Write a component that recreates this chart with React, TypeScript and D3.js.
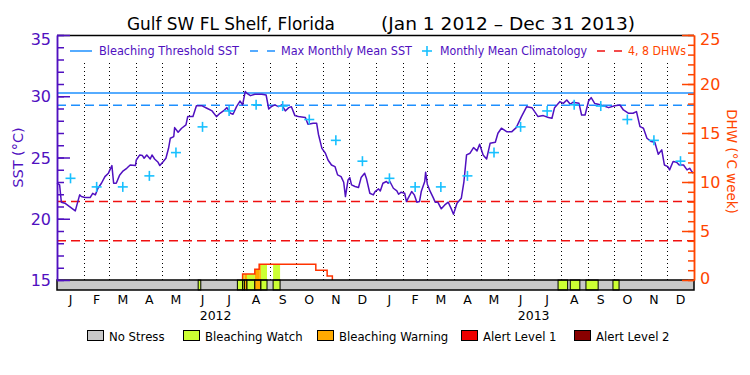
import React, { useEffect, useRef } from 'react';
import * as d3 from 'd3';

const monthLetters = ['J', 'F', 'M', 'A', 'M', 'J', 'J', 'A', 'S', 'O', 'N', 'D'];
const yearLabels = ['2012', '2013'];
const sstTickValues = [15, 20, 25, 30, 35];
const dhwTickValues = [0, 5, 10, 15, 20, 25];

// monthly mean climatology, Jan..Dec (°C)
const climatology = [23.3, 22.6, 22.6, 23.5, 25.4, 27.5, 28.8, 29.3, 29.2, 28.1, 26.4, 24.7];
const maxMonthlyMean = 29.26;
const bleachingThreshold = 30.26;
const dhwRefLines = [4, 8];

// SST readings: day index since Jan 1 2012, value in °C
const sstDay = [
  0, 3, 5, 9, 21, 26, 28, 32, 38, 41, 44, 47, 51, 55, 59, 63, 65, 68, 72, 76, 80, 84, 90, 91, 95,
  98, 100, 103, 107, 109, 112, 116, 118, 122, 125, 128, 130, 134, 135, 139, 143, 148, 150, 156, 160,
  166, 172, 178, 183, 187, 191, 195, 199, 202, 206, 210, 213, 216, 218, 222, 227, 235, 240, 243, 246,
  250, 254, 258, 262, 266, 269, 273, 277, 285, 288, 294, 298, 300, 304, 308, 311, 315, 319, 322, 326,
  329, 331, 334, 336, 338, 342, 346, 349, 353, 355, 359, 363,
  365, 369, 371, 374, 378, 380, 382, 386, 390, 392, 395, 399, 401, 403, 407, 410, 413, 416, 418, 422,
  423, 425, 428, 432, 434, 437, 441, 445, 449, 453, 455, 459, 464, 467, 470, 474, 478, 482, 485, 489,
  493, 497, 503, 506, 510, 516, 522, 527, 533, 539, 545, 552, 558, 564, 568, 571, 577, 581, 585, 589,
  592, 599, 602, 606, 610, 613, 617, 621, 627, 633, 640, 646, 650, 656, 661, 665, 669, 673, 677, 682,
  686, 690, 694, 697, 701, 703, 707, 711, 714, 719, 723, 726, 728, 730,
];
const sstValue = [
  22.9, 22.76, 21.35, 21.27, 20.64, 21.95, 21.81, 21.73, 21.73, 22.08, 21.95, 22.49, 22.9, 23.44, 23.72,
  24.34, 22.9, 22.9, 23.58, 23.91, 24.12, 24.39, 24.34, 24.8, 25.21,
  25.16, 24.94, 25.21, 24.88, 25.21, 24.88, 24.61, 24.34, 24.67, 24.94, 25.75, 26.57, 26.71, 27.44,
  27.06, 27.39, 27.66, 28.34, 28.34, 29.23,
  29.23, 29.02, 28.8, 28.34, 28.61, 28.8, 29.07, 28.61, 28.53, 29.15, 29.61, 29.29, 30.38, 30.24, 30.05,
  30.16, 30.16, 30.1, 28.96, 29.15,
  29.29, 29.15, 29.29, 28.8, 29.07, 29.15, 28.42, 28.34, 28.26, 27.71, 27.79, 27.79, 26.9, 25.75, 25.35,
  24.8, 24.39, 24.26, 23.58, 23.44,
  22.98, 21.81, 23.17, 23.36, 22.76, 22.63, 22.55, 23.36, 23.72, 23.31, 22.08, 21.95,
  22.22, 22.44, 22.27, 22.9, 23.04, 22.9, 23.04, 22.49, 22.27, 22.0, 22.17, 22.08, 21.4, 21.68, 22.22,
  21.95, 21.35, 21.4, 22.22, 23.04,
  23.8, 22.82, 22.27, 21.68, 21.35, 21.35, 20.81, 21.13, 21.35, 20.72, 20.37, 21.27, 21.68, 23.04, 25.21,
  25.35, 25.81, 25.54, 26.08, 25.21,
  24.88, 26.16, 26.24, 26.98, 27.39, 27.11, 27.11, 27.44, 28.34, 29.15, 29.07, 28.34, 28.42, 28.26, 28.2,
  29.07, 29.56, 29.42, 29.7, 29.34,
  29.51, 29.42, 28.47, 28.47, 29.61, 29.89, 29.42, 29.34, 29.23, 29.07, 29.23, 29.29, 28.88, 28.61, 28.61,
  28.75, 27.52, 27.39, 26.57, 26.3,
  26.24, 25.26, 25.62, 24.39, 24.26, 23.99, 24.67, 24.61, 24.39, 24.39, 23.99, 24.12, 23.91, 23.72,
];

// degree heating weeks (step values from the given day on)
const dhwDay = [212, 213, 227, 232, 297, 310, 316];
const dhwValue = [0, 0.6, 1.1, 1.6, 1.0, 0.4, 0];

// daily stress level periods (start inclusive, end exclusive)
const stressStart = [162, 207, 213, 215, 218, 227, 234, 248, 575, 589, 607, 638];
const stressEnd = [165, 213, 215, 218, 227, 234, 241, 256, 586, 600, 621, 645];
const stressLevel = [1, 1, 1, 2, 1, 2, 1, 1, 1, 1, 1, 1];

const stressNames = ['No Stress', 'Bleaching Watch', 'Bleaching Warning', 'Alert Level 1', 'Alert Level 2'];
const stressColors = ['#c8c8c8', '#ccff33', '#ffaa00', '#ee0000', '#880000'];

const PURPLE = '#5010c0';
const ORANGE = '#ff4500';
const BLUE = '#1e90ff';
const CYAN = '#18c0ff';
const RED = '#f01010';
const FONT = 'DejaVu Sans, sans-serif';

const App = () => {
  const chartRef = useRef<HTMLDivElement>(null);

  useEffect(() => {
    const width = 750;
    const height = 375;
    const left = 57;
    const right = 694;
    const top = 35;
    const bottom = 280;
    const barH = 10;

    d3.select(chartRef.current).selectAll('svg').remove();

    const svg = d3.select(chartRef.current)
      .append('svg')
      .attr('width', width)
      .attr('height', height)
      .style('position', 'absolute')
      .style('left', '0px')
      .style('top', '0px')
      .style('background', '#fff')
      .style('font-family', FONT);

    const start = new Date(2012, 0, 1);
    const end = new Date(2014, 0, 1);
    const day = (d: number) => d3.timeDay.offset(start, d);

    const x = d3.scaleTime().domain([start, end]).range([left, right]);
    const yS = d3.scaleLinear().domain([15, 35]).range([bottom, top]);
    const yD = d3.scaleLinear().domain([0, 25]).range([bottom, top]);

    // title
    svg.append('text').attr('x', 127).attr('y', 29.5).attr('font-size', 17)
      .attr('textLength', 208).attr('lengthAdjust', 'spacingAndGlyphs')
      .text('Gulf SW FL Shelf, Florida');
    svg.append('text').attr('x', 381).attr('y', 29.5).attr('font-size', 17)
      .attr('textLength', 254).attr('lengthAdjust', 'spacingAndGlyphs')
      .text('(Jan 1 2012 – Dec 31 2013)');

    // month gridlines
    const months = d3.timeMonth.range(start, end);
    svg.append('g').selectAll('line')
      .data(months.slice(1))
      .join('line')
      .attr('x1', d => Math.round(x(d)) + 0.5)
      .attr('x2', d => Math.round(x(d)) + 0.5)
      .attr('y1', 63)
      .attr('y2', bottom)
      .attr('stroke', '#000')
      .attr('stroke-dasharray', '1,3');

    // reference lines
    svg.append('line').attr('x1', left).attr('x2', right)
      .attr('y1', yS(bleachingThreshold)).attr('y2', yS(bleachingThreshold))
      .attr('stroke', BLUE).attr('stroke-width', 1.5);
    svg.append('line').attr('x1', left).attr('x2', right)
      .attr('y1', yS(maxMonthlyMean)).attr('y2', yS(maxMonthlyMean))
      .attr('stroke', BLUE).attr('stroke-width', 1.5).attr('stroke-dasharray', '9,5');
    svg.append('g').selectAll('line')
      .data(dhwRefLines)
      .join('line')
      .attr('x1', left).attr('x2', right)
      .attr('y1', d => yD(d)).attr('y2', d => yD(d))
      .attr('stroke', RED).attr('stroke-width', 1.5).attr('stroke-dasharray', '9,5');

    // DHW fill coloured by stress level
    const dhwAt = (d: number) => {
      let v = 0;
      dhwDay.forEach((dd, i) => { if (dd <= d) v = dhwValue[i]; });
      return v;
    };
    const fills: { s: number; e: number; v: number; lvl: number }[] = [];
    stressStart.forEach((s, i) => {
      for (let d = s; d < stressEnd[i]; d++) {
        const v = dhwAt(d);
        if (v <= 0) continue;
        const last = fills[fills.length - 1];
        if (last && last.e === d && last.v === v && last.lvl === stressLevel[i]) last.e = d + 1;
        else fills.push({ s: d, e: d + 1, v, lvl: stressLevel[i] });
      }
    });
    svg.append('g').selectAll('rect')
      .data(fills)
      .join('rect')
      .attr('x', d => x(day(d.s)))
      .attr('width', d => x(day(d.e)) - x(day(d.s)))
      .attr('y', d => yD(d.v))
      .attr('height', d => bottom - yD(d.v))
      .attr('fill', d => stressColors[d.lvl]);

    // DHW line
    const dhwLine = d3.line<number>()
      .curve(d3.curveStepAfter)
      .x(d => x(day(d)))
      .y((d, i) => yD(dhwValue[i]));
    svg.append('path')
      .datum(dhwDay)
      .attr('fill', 'none')
      .attr('stroke', '#ff3300')
      .attr('stroke-width', 1.5)
      .attr('d', dhwLine);

    // SST line
    const sstLine = d3.line<number>()
      .x(d => x(day(d)))
      .y((d, i) => yS(sstValue[i]));
    svg.append('path')
      .datum(sstDay)
      .attr('fill', 'none')
      .attr('stroke', PURPLE)
      .attr('stroke-width', 1.5)
      .attr('stroke-linejoin', 'round')
      .attr('d', sstLine);

    // climatology crosses at mid-month
    const crosses = months.map((m, i) => ({
      cx: (x(m) + x(d3.timeMonth.offset(m, 1))) / 2,
      cy: yS(climatology[i % 12]),
    }));
    const cg = svg.append('g').attr('stroke', CYAN).attr('stroke-width', 1.6);
    crosses.forEach(c => {
      cg.append('line').attr('x1', c.cx - 5).attr('x2', c.cx + 5).attr('y1', c.cy).attr('y2', c.cy);
      cg.append('line').attr('x1', c.cx).attr('x2', c.cx).attr('y1', c.cy - 5).attr('y2', c.cy + 5);
    });

    // top legend
    const lg = svg.append('g').attr('font-size', 11.5);
    const legendText = (tx: number, len: number, color: string, label: string) =>
      lg.append('text').attr('x', tx).attr('y', 55).attr('fill', color)
        .attr('textLength', len).attr('lengthAdjust', 'spacingAndGlyphs').text(label);
    lg.append('line').attr('x1', 70).attr('x2', 92).attr('y1', 51).attr('y2', 51)
      .attr('stroke', BLUE).attr('stroke-width', 1.5);
    legendText(99, 140, PURPLE, 'Bleaching Threshold SST');
    lg.append('line').attr('x1', 250).attr('x2', 275).attr('y1', 51).attr('y2', 51)
      .attr('stroke', BLUE).attr('stroke-width', 1.5).attr('stroke-dasharray', '8,9');
    legendText(281, 131, PURPLE, 'Max Monthly Mean SST');
    lg.append('line').attr('x1', 422).attr('x2', 432).attr('y1', 51).attr('y2', 51)
      .attr('stroke', CYAN).attr('stroke-width', 1.6);
    lg.append('line').attr('x1', 427).attr('x2', 427).attr('y1', 46).attr('y2', 56)
      .attr('stroke', CYAN).attr('stroke-width', 1.6);
    legendText(440, 147, PURPLE, 'Monthly Mean Climatology');
    lg.append('line').attr('x1', 597).attr('x2', 622).attr('y1', 51).attr('y2', 51)
      .attr('stroke', RED).attr('stroke-width', 1.5).attr('stroke-dasharray', '8,9');
    legendText(628, 58, ORANGE, '4, 8 DHWs');

    // top frame
    svg.append('line').attr('x1', left).attr('x2', right).attr('y1', top + 0.5).attr('y2', top + 0.5)
      .attr('stroke', '#000').attr('stroke-width', 1.5);

    // stress bar
    svg.append('rect').attr('x', left).attr('y', bottom).attr('width', right - left).attr('height', barH)
      .attr('fill', stressColors[0]);
    svg.append('g').selectAll('rect')
      .data(stressStart)
      .join('rect')
      .attr('x', d => x(day(d)))
      .attr('width', (d, i) => x(day(stressEnd[i])) - x(day(d)))
      .attr('y', bottom)
      .attr('height', barH)
      .attr('fill', (d, i) => stressColors[stressLevel[i]])
      .attr('stroke', '#000')
      .attr('stroke-width', 1);
    svg.append('rect').attr('x', left).attr('y', bottom).attr('width', right - left).attr('height', barH)
      .attr('fill', 'none').attr('stroke', '#000').attr('stroke-width', 1.5);

    // left axis (SST)
    const la = svg.append('g').attr('transform', `translate(${left},0)`);
    la.call(d3.axisRight(yS).tickValues(d3.range(15, 36)).tickSize(7).tickSizeOuter(0).tickFormat(() => ''));
    la.call(g => g.append('g').call(d3.axisRight(yS).tickValues(sstTickValues).tickSize(13).tickSizeOuter(0).tickFormat(() => '')));
    la.selectAll('path, line').attr('stroke', PURPLE).attr('stroke-width', 1.5);
    svg.append('g').selectAll('text')
      .data(sstTickValues)
      .join('text')
      .attr('x', 51)
      .attr('y', d => yS(d) + 6 + (d === 35 ? 4 : 0))
      .attr('text-anchor', 'end')
      .attr('font-size', 16)
      .attr('fill', PURPLE)
      .text(d => d);
    svg.append('text')
      .attr('transform', 'translate(22.5,157.5) rotate(-90)')
      .attr('text-anchor', 'middle')
      .attr('font-size', 14.5)
      .attr('fill', PURPLE)
      .text('SST (°C)');

    // right axis (DHW)
    const ra = svg.append('g').attr('transform', `translate(${right},0)`);
    ra.call(d3.axisLeft(yD).tickValues(d3.range(0, 26)).tickSize(6).tickSizeOuter(0).tickFormat(() => ''));
    ra.call(g => g.append('g').call(d3.axisLeft(yD).tickValues(dhwTickValues).tickSize(12).tickSizeOuter(0).tickFormat(() => '')));
    ra.selectAll('path, line').attr('stroke', ORANGE).attr('stroke-width', 1.5);
    svg.append('g').selectAll('text')
      .data(dhwTickValues)
      .join('text')
      .attr('x', 700)
      .attr('y', d => yD(d) + 6 + (d === 25 ? 4 : 0) - (d === 0 ? 2 : 0))
      .attr('font-size', 16)
      .attr('fill', ORANGE)
      .text(d => d);
    svg.append('text')
      .attr('transform', 'translate(727,161.5) rotate(90)')
      .attr('text-anchor', 'middle')
      .attr('font-size', 13.5)
      .attr('fill', ORANGE)
      .text('DHW (°C week)');

    // month and year labels
    svg.append('g').selectAll('text')
      .data(months)
      .join('text')
      .attr('x', d => (x(d) + x(d3.timeMonth.offset(d, 1))) / 2)
      .attr('y', 304)
      .attr('text-anchor', 'middle')
      .attr('font-size', 12.5)
      .text((d, i) => monthLetters[i % 12]);
    svg.append('g').selectAll('text')
      .data(yearLabels)
      .join('text')
      .attr('x', (d, i) => x(new Date(2012 + i, 6, 1)))
      .attr('y', 320)
      .attr('text-anchor', 'middle')
      .attr('font-size', 12.5)
      .text(d => d);

    // stress legend
    const boxX = [87, 183, 317, 461, 574];
    const sl = svg.append('g').attr('font-size', 11.7);
    stressNames.forEach((name, i) => {
      sl.append('rect').attr('x', boxX[i] + 0.5).attr('y', 330.5).attr('width', 16).attr('height', 10)
        .attr('fill', stressColors[i]).attr('stroke', '#000');
      sl.append('text').attr('x', boxX[i] + 22).attr('y', 340.5).text(name);
    });
  }, []);

  return <div ref={chartRef}></div>;
};

export default App;
